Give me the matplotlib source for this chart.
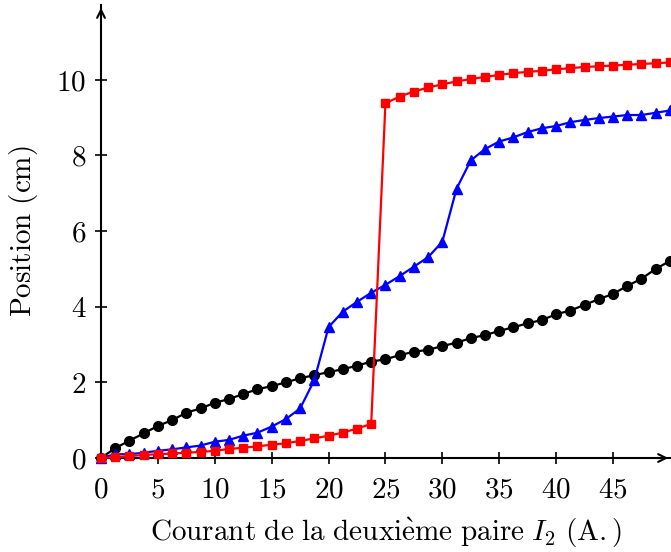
import numpy as np
import matplotlib
matplotlib.use('Agg')
import matplotlib.pyplot as plt

plt.rcParams['font.family'] = 'serif'
plt.rcParams['font.serif'] = ['cmr10']
plt.rcParams['mathtext.fontset'] = 'cm'
plt.rcParams['axes.formatter.use_mathtext'] = True

# courant I2 (A.), pas de 1.25 A
courant = [i * 1.25 for i in range(41)]

pos_noir = [0.0, 0.26, 0.46, 0.65, 0.85, 1.0, 1.2, 1.31, 1.46, 1.56,
            1.69, 1.82, 1.9, 2.0, 2.11, 2.19, 2.27, 2.35, 2.44, 2.55,
            2.61, 2.72, 2.81, 2.86, 2.96, 3.05, 3.17, 3.25, 3.36, 3.46,
            3.56, 3.65, 3.8, 3.9, 4.05, 4.2, 4.34, 4.55, 4.74, 5.0, 5.21]

pos_bleu = [0.0, 0.1, 0.1, 0.14, 0.19, 0.23, 0.28, 0.33, 0.43, 0.48,
            0.59, 0.67, 0.83, 1.03, 1.31, 2.06, 3.46, 3.87, 4.13, 4.37,
            4.58, 4.81, 5.06, 5.31, 5.72, 7.12, 7.87, 8.17, 8.37, 8.48,
            8.62, 8.72, 8.78, 8.88, 8.94, 8.99, 9.03, 9.07, 9.07, 9.13, 9.19]

pos_rouge = [0.0, 0.02, 0.05, 0.08, 0.1, 0.12, 0.14, 0.16, 0.19, 0.24,
             0.27, 0.31, 0.35, 0.39, 0.45, 0.52, 0.59, 0.67, 0.78, 0.9,
             9.38, 9.56, 9.69, 9.8, 9.88, 9.96, 10.02, 10.08, 10.13, 10.18,
             10.21, 10.24, 10.28, 10.31, 10.34, 10.36, 10.38, 10.4, 10.42, 10.44, 10.46]

xticks = [0, 5, 10, 15, 20, 25, 30, 35, 40, 45]
yticks = [0, 2, 4, 6, 8, 10]

fig = plt.figure(figsize=(6.71, 5.52), dpi=100)
ax = fig.add_axes([101 / 671, 1 - 458 / 552, 570 / 671, 453 / 552])

ax.plot(courant, pos_noir, '-o', color='black', lw=1.6, ms=7, clip_on=False, zorder=3)
ax.plot(courant, pos_bleu, '-^', color='blue', lw=1.6, ms=7, clip_on=False, zorder=4)
ax.plot(courant, pos_rouge, '-s', color='red', lw=1.6, ms=5.8, clip_on=False, zorder=5)

ax.set_xlim(0, 50.1)
ax.set_ylim(0, 11.98)
ax.set_xticks(xticks)
ax.set_yticks(yticks)
ax.tick_params(direction='inout', length=9, width=1.2, labelsize=21, pad=6)
ax.tick_params(axis='x', pad=9)

for s in ['top', 'right']:
    ax.spines[s].set_visible(False)
for s in ['left', 'bottom']:
    ax.spines[s].set_linewidth(1.5)

# fleches au bout des axes
ax.annotate('', xy=(0, 1.0), xytext=(0, 0.97), xycoords='axes fraction',
            arrowprops=dict(arrowstyle='->', lw=1.5, color='black', mutation_scale=14))
ax.annotate('', xy=(1.0, 0), xytext=(0.97, 0), xycoords='axes fraction',
            arrowprops=dict(arrowstyle='->', lw=1.5, color='black', mutation_scale=14))

ax.set_xlabel(r'$\mathrm{Courant\ de\ la\ deuxi\grave{e}me\ paire}\ I_2\ \mathrm{(A.)}$', fontsize=21, labelpad=9)
ax.set_ylabel(r'$\mathrm{Position\ (cm)}$', fontsize=21, labelpad=12)

fig.savefig('out.png', dpi=100)
